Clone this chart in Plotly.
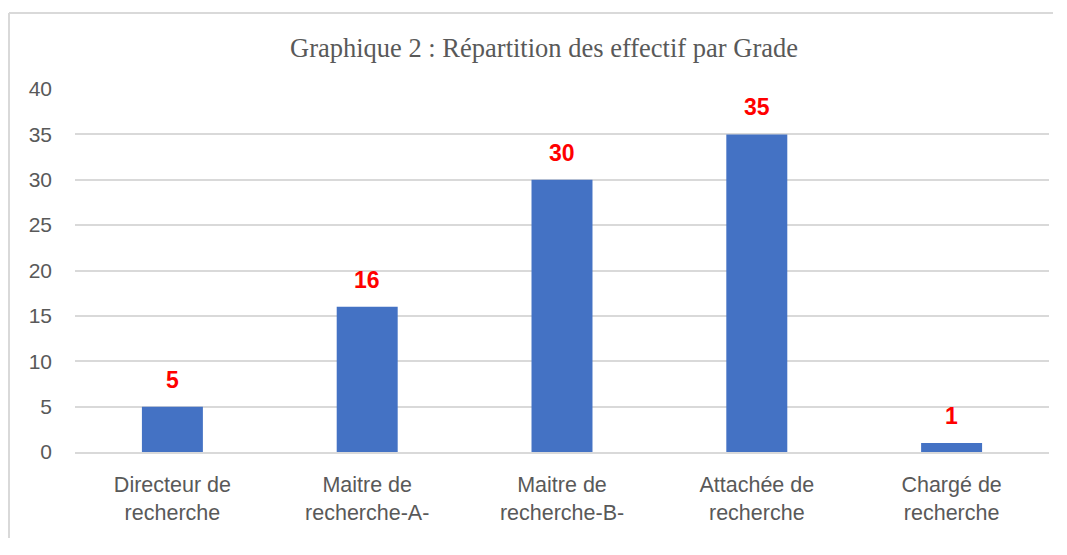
import plotly.graph_objects as go

categories = ["Directeur de<br>recherche", "Maitre de<br>recherche-A-", "Maitre de<br>recherche-B-",
              "Attachée de<br>recherche", "Chargé de<br>recherche"]
values = [5, 16, 30, 35, 1]
y_ticks = [0, 5, 10, 15, 20, 25, 30, 35, 40]
title_text = "Graphique 2 : Répartition des effectif par Grade"

W, H = 1045, 530
L, R, T, B = 67, 4, 81, 86
PW, PH = W - L - R, H - T - B

fig = go.Figure()
fig.add_trace(go.Bar(x=categories, y=values, marker=dict(color="#4472C4", line=dict(width=0)),
                     hoverinfo="skip"))

for c, v in zip(categories, values):
    fig.add_annotation(x=c, y=v, text=f"<b>{v}</b>", showarrow=False, yanchor="bottom", yshift=12,
                       font=dict(family="Liberation Sans, Arial, sans-serif", size=23, color="#FF0000"))

fig.update_layout(
    width=W, height=H,
    margin=dict(l=L, r=R, t=T, b=B),
    paper_bgcolor="white", plot_bgcolor="white",
    bargap=0.687,
    showlegend=False,
    title=dict(text=title_text, x=536 / W, xanchor="center", y=1 - 40 / H, yanchor="middle",
               font=dict(family="Liberation Serif, Times New Roman, serif", size=26.5, color="#595959")),
    font=dict(family="Liberation Sans, Arial, sans-serif", size=21, color="#595959"),
    xaxis=dict(showgrid=False, showline=True, linecolor="#D9D9D9", linewidth=1.5, ticks="",
               tickfont=dict(size=21.5, color="#595959"), ticklabelstandoff=12),
    yaxis=dict(range=[0, 40], tickvals=y_ticks, showgrid=True, gridcolor="#D9D9D9", gridwidth=1.5,
               zeroline=False, showline=False, ticks="", tickfont=dict(size=21, color="#595959"),
               ticklabelstandoff=22),
    shapes=[
        dict(type="line", xref="paper", yref="paper", x0=(1 - L) / PW, x1=(W - L) / PW,
             y0=(H - B - 5) / PH, y1=(H - B - 5) / PH,
             line=dict(color="#D9D9D9", width=2)),
        dict(type="line", xref="paper", yref="paper", x0=(1 - L) / PW, x1=(1 - L) / PW,
             y0=-B / PH, y1=(H - B - 5) / PH,
             line=dict(color="#D9D9D9", width=2)),
    ],
)
fig.write_html("out.html")
